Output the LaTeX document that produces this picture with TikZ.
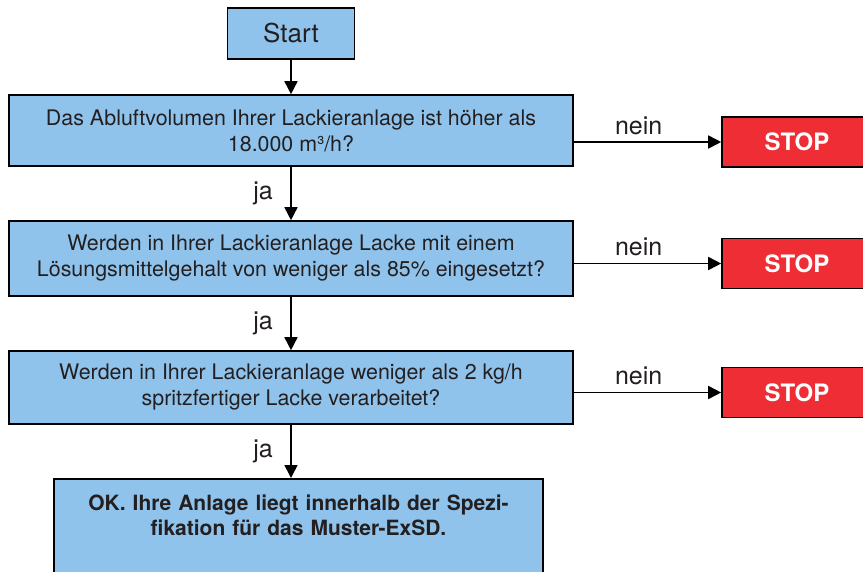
\documentclass[tikz,border=0pt]{standalone}
\usepackage{fontspec}
\setmainfont{TeX Gyre Heros}
\usetikzlibrary{arrows.meta}

\definecolor{boxblue}{RGB}{144,195,235}
\definecolor{stopred}{RGB}{238,45,53}
\definecolor{ink}{RGB}{35,31,32}

\begin{document}
\begin{tikzpicture}[x=1pt,y=-1pt,
    box/.style={draw=black,line width=1.6pt,fill=boxblue,text=ink,align=center,inner sep=0pt},
    question/.style={box,minimum width=564pt,font=\fontsize{21.4}{26}\selectfont},
    stopbox/.style={draw=black,line width=1.6pt,fill=stopred,text=white,minimum width=150pt,minimum height=50pt,font=\fontsize{24}{28}\selectfont\bfseries},
    arr/.style={line width=1.6pt,-{Triangle[length=13pt,width=13pt]}},
    lbl/.style={text=ink,font=\fontsize{25}{30}\selectfont}]
                \useasboundingbox (0,0) rectangle (863,571);
                \clip (0,0) rectangle (863,571);
                \node[box,minimum width=127pt,minimum height=51pt,font=\fontsize{26}{30}\selectfont] (start) at (291,33.5) {Start};
                \node[question,minimum height=71pt] (q1) at (291,130.5) {Das Abluftvolumen Ihrer Lackieranlage ist höher als\\18.000 m³/h?};
                \node[question,minimum height=75pt] (q2) at (291,258.5) {Werden in Ihrer Lackieranlage Lacke mit einem\\Lösungsmittelgehalt von weniger als 85\% eingesetzt?};
                \node[question,minimum height=73pt] (q3) at (291,387.5) {Werden in Ihrer Lackieranlage weniger als 2 kg/h\\spritzfertiger Lacke verarbeitet?};
                \node[box,anchor=north,text width=489pt,inner ysep=16pt,text depth=80pt,font=\fontsize{21}{25}\selectfont\bfseries] (ok) at (298.5,478) {OK. Ihre Anlage liegt innerhalb der Spezi-\\fikation für das Muster-ExSD.};
                \node[stopbox] (stop1) at (797,142) {STOP};
                \node[stopbox] (stop2) at (797,263.5) {STOP};
                \node[stopbox] (stop3) at (797,392.5) {STOP};
                \draw[arr] (start) -- (q1);
                \draw[arr] (q1) -- node[lbl,left=14pt]{ja} (q2);
                \draw[arr] (q2) -- node[lbl,left=14pt]{ja} (q3);
                \draw[arr] (q3.south) -- node[lbl,left=14pt]{ja} (q3.south |- ok.north);
                \draw[arr] (q1.east |- stop1) -- node[lbl,above=3pt,pos=0.44]{nein} (stop1);
                \draw[arr] (q2.east |- stop2) -- node[lbl,above=3pt,pos=0.44]{nein} (stop2);
                \draw[arr] (q3.east |- stop3) -- node[lbl,above=3pt,pos=0.44]{nein} (stop3);
            \end{tikzpicture}
\end{document}
